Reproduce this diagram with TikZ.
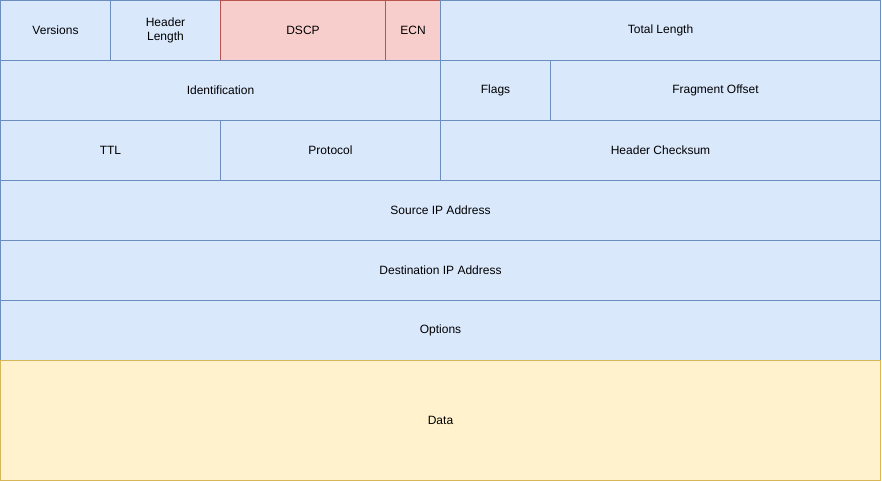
\documentclass[tikz,border=0pt]{standalone}
\usepackage{fontspec}
\setmainfont{Liberation Sans}
\usepackage{tikz}

\definecolor{blueFill}{HTML}{DAE8FC}
\definecolor{blueLine}{HTML}{6C8EBF}
\definecolor{redFill}{HTML}{F8CECC}
\definecolor{redLine}{HTML}{B85450}
\definecolor{yellowFill}{HTML}{FFF2CC}
\definecolor{yellowLine}{HTML}{D6B656}

\tikzset{
	field/.style={draw=blueLine, fill=blueFill, line width=1pt, anchor=north west,
		inner sep=0pt, outer sep=0pt, align=center, font=\fontsize{12}{14}\selectfont},
	redfield/.style={field, draw=redLine, fill=redFill},
	datafield/.style={field, draw=yellowLine, fill=yellowFill}
}

\begin{document}
\begin{tikzpicture}[x=1pt, y=-1pt]
	\useasboundingbox (0,0) rectangle (882,481);
	
	% Row 1
	\node[field, minimum width=110pt, minimum height=60pt] (ver) at (0.5,0.5) {Versions};
	\node[field, minimum width=110pt, minimum height=60pt] (hlen) at (110.5,0.5) {Header\\Length};
	\node[redfield, minimum width=165pt, minimum height=60pt] (dscp) at (220.5,0.5) {DSCP};
	\node[redfield, minimum width=55pt, minimum height=60pt] (ecn) at (385.5,0.5) {ECN};
	\node[field, minimum width=440pt, minimum height=60pt] (tlen) at (440.5,0.5) {Total Length};
	
	% Row 2
	\node[field, minimum width=440pt, minimum height=60pt] (ident) at (0.5,60.5) {Identification};
	\node[field, minimum width=110pt, minimum height=60pt] (flags) at (440.5,60.5) {Flags};
	\node[field, minimum width=330pt, minimum height=60pt] (frag) at (550.5,60.5) {Fragment Offset};
	
	% Row 3
	\node[field, minimum width=220pt, minimum height=60pt] (ttl) at (0.5,120.5) {TTL};
	\node[field, minimum width=220pt, minimum height=60pt] (proto) at (220.5,120.5) {Protocol};
	\node[field, minimum width=440pt, minimum height=60pt] (hcs) at (440.5,120.5) {Header Checksum};
	
	% Addresses and options
	\node[field, minimum width=880pt, minimum height=60pt] (src) at (0.5,180.5) {Source IP Address};
	\node[field, minimum width=880pt, minimum height=60pt] (dst) at (0.5,240.5) {Destination IP Address};
	\node[field, minimum width=880pt, minimum height=60pt] (opt) at (0.5,300.5) {Options};
	
	% Payload
	\node[datafield, minimum width=880pt, minimum height=120pt] (data) at (0.5,360.5) {Data};
	
\end{tikzpicture}
\end{document}
